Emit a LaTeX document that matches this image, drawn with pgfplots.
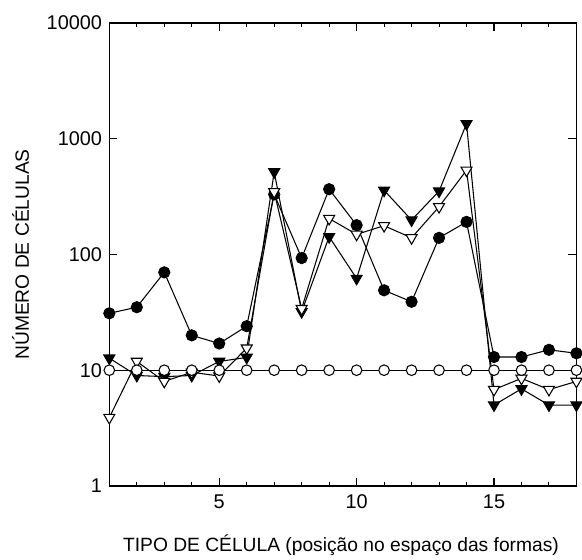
\documentclass[border=0pt]{standalone}
\usepackage{pgfplots}
\pgfplotsset{compat=1.18}
\usepackage{fontspec}
\setmainfont{Liberation Sans}
\begin{document}
\begin{tikzpicture}
\begin{axis}[
  scale only axis,
  width=352.5pt, height=349.5pt,
  xmin=1, xmax=18,
  ymode=log, ymin=1, ymax=10000,
  log basis y=10,
  xtick={5,10,15},
  minor xtick={1,2,...,18},
  ytick={1,10,100,1000,10000},
  yticklabels={1,10,100,1000,10000},
  yminorticks=false,
  tick align=inside,
  major tick length=6pt,
  minor tick length=3pt,
  every tick/.style={black, line width=0.8pt},
  axis line style={line width=1pt},
  /pgf/number format/assume math mode=true,
  tick label style={font=\fontsize{15}{18}\selectfont},
  xticklabel style={yshift=-3pt},
  yticklabel style={xshift=-2pt},
  label style={font=\fontsize{14.5}{17}\selectfont},
  xlabel={TIPO DE CÉLULA (posição no espaço das formas)},
  ylabel={NÚMERO DE CÉLULAS},
  xlabel style={at={(axis description cs:0.496,-0.127)}, anchor=center},
  ylabel style={at={(axis description cs:-0.19,0.5)}, anchor=center},
  clip=false,
]
\addplot[black, line width=0.8pt, mark=*, mark size=4.2pt, mark options={fill=black}] coordinates {
(1,31) (2,35) (3,70) (4,20) (5,17) (6,24) (7,330) (8,93) (9,366) (10,179)
(11,49) (12,39) (13,139) (14,191) (15,13) (16,13) (17,15) (18,14)};
\addplot[black, line width=0.8pt, mark=triangle*, mark size=4.8pt, mark options={fill=black, rotate=180}] coordinates {
(1,12.7) (2,9) (3,8.8) (4,9) (5,11.9) (6,12.9) (7,516) (8,32) (9,142) (10,62)
(11,358) (12,198) (13,352) (14,1345) (15,5) (16,6.9) (17,5) (18,5)};
\addplot[black, line width=0.8pt, mark=triangle*, mark size=4.8pt, mark options={fill=white, rotate=180}] coordinates {
(1,3.9) (2,11.9) (3,8) (4,9.6) (5,8.9) (6,15.5) (7,347) (8,34) (9,204) (10,149)
(11,177) (12,139) (13,258) (14,533) (15,6.8) (16,8.5) (17,6.8) (18,8)};
\addplot[black, line width=0.8pt, mark=*, mark size=4pt, mark options={fill=white}] coordinates {
(1,10) (2,10) (3,10) (4,10) (5,10) (6,10) (7,10) (8,10) (9,10) (10,10)
(11,10) (12,10) (13,10) (14,10) (15,10) (16,10) (17,10) (18,10)};
\end{axis}
\path ([xshift=-82.5pt,yshift=-52.5pt]current axis.south west) rectangle ([xshift=1.5pt,yshift=17.25pt]current axis.north east);
\end{tikzpicture}
\end{document}
